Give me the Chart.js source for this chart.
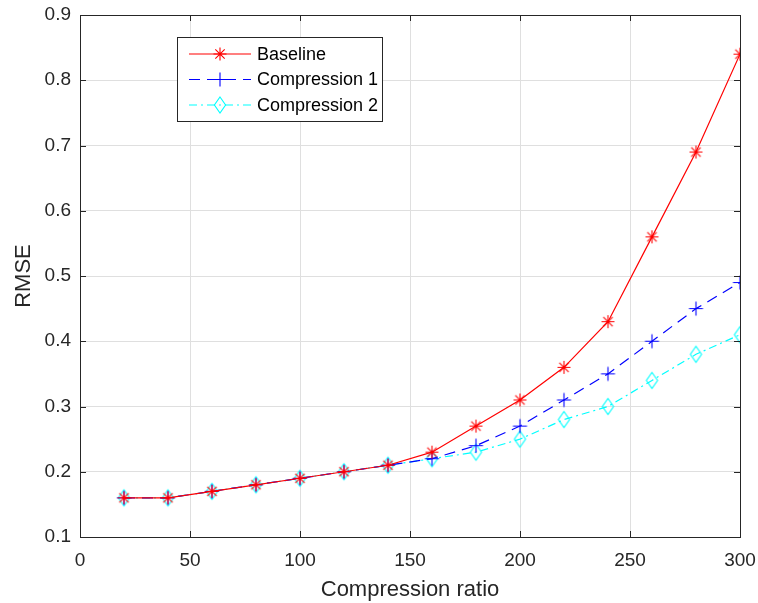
<!DOCTYPE html>
<html>
<head>
<meta charset="utf-8">
<title>RMSE vs compression ratio</title>
<script src="https://cdn.jsdelivr.net/npm/chart.js@4.4.0/dist/chart.umd.min.js"></script>
<style>
  html, body { margin: 0; padding: 0; background: #fff; }
  #wrap { width: 758px; height: 603px; position: relative; }
</style>
</head>
<body>
<div id="wrap"><canvas id="graph"></canvas></div>
<script>
const ratios = [20, 40, 60, 80, 100, 120, 140, 160, 180, 200, 220, 240, 260, 280, 300];
const baseline = [0.16, 0.16, 0.17, 0.18, 0.19, 0.20, 0.21, 0.23, 0.27, 0.31, 0.36, 0.43, 0.56, 0.69, 0.84];
const compression1 = [0.16, 0.16, 0.17, 0.18, 0.19, 0.20, 0.21, 0.22, 0.24, 0.27, 0.31, 0.35, 0.40, 0.45, 0.49];
const compression2 = [0.16, 0.16, 0.17, 0.18, 0.19, 0.20, 0.21, 0.22, 0.23, 0.25, 0.28, 0.30, 0.34, 0.38, 0.41];
const xTicks = [0, 50, 100, 150, 200, 250, 300];
const yTicks = [0.1, 0.2, 0.3, 0.4, 0.5, 0.6, 0.7, 0.8, 0.9];

const FONT = "'Liberation Sans', Arial, Helvetica, sans-serif";
const AXIS = '#262626';

function toPoints(ys) {
  return ratios.map((x, i) => ({ x: x, y: ys[i] }));
}

// matlab-ish markers, also reused by the legend
function drawMarker(ctx, style, x, y, r) {
  ctx.beginPath();
  if (style === 'star') {
    ctx.moveTo(x - r, y); ctx.lineTo(x + r, y);
    ctx.moveTo(x, y - r); ctx.lineTo(x, y + r);
    const d = r * 0.72;
    ctx.moveTo(x - d, y - d); ctx.lineTo(x + d, y + d);
    ctx.moveTo(x - d, y + d); ctx.lineTo(x + d, y - d);
  } else if (style === 'cross') {
    ctx.moveTo(x - r, y); ctx.lineTo(x + r, y);
    ctx.moveTo(x, y - r); ctx.lineTo(x, y + r);
  } else {
    ctx.moveTo(x, y - r * 1.15);
    ctx.lineTo(x + r * 0.8, y);
    ctx.lineTo(x, y + r * 1.15);
    ctx.lineTo(x - r * 0.8, y);
    ctx.closePath();
  }
  ctx.stroke();
}

function markerCanvas(style, color, r) {
  const c = document.createElement('canvas');
  const s = Math.ceil(r * 2.6) + 2;
  c.width = s; c.height = s;
  const g = c.getContext('2d');
  g.strokeStyle = color;
  g.lineWidth = 1.1;
  drawMarker(g, style, s / 2, s / 2, r);
  return c;
}

const series = [
  { label: 'Baseline', data: baseline, color: '#ff0000', dash: [], marker: 'star', r: 6.5 },
  { label: 'Compression 1', data: compression1, color: '#0000ff', dash: [11, 7], marker: 'cross', r: 7 },
  { label: 'Compression 2', data: compression2, color: '#00ffff', dash: [8, 4, 2, 4], marker: 'diamond', r: 7 }
];

const datasets = series.map(s => ({
  label: s.label,
  data: toPoints(s.data),
  borderColor: s.color,
  backgroundColor: s.color,
  borderWidth: 1.2,
  borderDash: s.dash,
  pointStyle: markerCanvas(s.marker, s.color, s.r),
  pointRadius: s.r,
  tension: 0,
  fill: false
}));

// frame + inward ticks + legend box
const framePlugin = {
  id: 'frame',
  afterDatasetsDraw(chart) {
    const { ctx, chartArea: a, scales } = chart;
    ctx.save();
    ctx.strokeStyle = AXIS;
    ctx.lineWidth = 1;
    ctx.strokeRect(a.left + 0.5, a.top + 0.5, a.right - a.left, a.bottom - a.top);
    ctx.beginPath();
    xTicks.forEach(v => {
      const px = Math.round(scales.x.getPixelForValue(v)) + 0.5;
      ctx.moveTo(px, a.bottom); ctx.lineTo(px, a.bottom - 6);
      ctx.moveTo(px, a.top); ctx.lineTo(px, a.top + 6);
    });
    yTicks.forEach(v => {
      const py = Math.round(scales.y.getPixelForValue(v)) + 0.5;
      ctx.moveTo(a.left, py); ctx.lineTo(a.left + 6, py);
      ctx.moveTo(a.right, py); ctx.lineTo(a.right - 6, py);
    });
    ctx.stroke();

    // legend
    const bx = a.left + 97, by = a.top + 22, bw = 205, bh = 84;
    ctx.fillStyle = '#fff';
    ctx.fillRect(bx, by, bw, bh);
    ctx.strokeStyle = AXIS;
    ctx.strokeRect(bx + 0.5, by + 0.5, bw, bh);
    ctx.font = '18px ' + FONT;
    ctx.textBaseline = 'middle';
    series.forEach((s, i) => {
      const y = by + 17 + i * 25.5;
      ctx.strokeStyle = s.color;
      ctx.lineWidth = 1.2;
      ctx.setLineDash(s.dash);
      ctx.beginPath();
      ctx.moveTo(bx + 12, y); ctx.lineTo(bx + 74, y);
      ctx.stroke();
      ctx.setLineDash([]);
      ctx.lineWidth = 1.1;
      drawMarker(ctx, s.marker, bx + 43, y, s.r);
      ctx.fillStyle = '#000';
      ctx.fillText(s.label, bx + 80, y + 1);
    });
    ctx.restore();
  }
};

// keep tick labels from pushing the plot area inwards
function noOverflow(s) {
  s.paddingLeft = 0; s.paddingRight = 0;
  s.paddingTop = 0; s.paddingBottom = 0;
}

const config = {
  type: 'line',
  data: { datasets },
  options: {
    responsive: true,
    maintainAspectRatio: false,
    animation: false,
    layout: { padding: { top: 15, right: 18, left: 0, bottom: 0 } },
    plugins: { legend: { display: false }, tooltip: { enabled: false } },
    scales: {
      x: {
        type: 'linear',
        min: 0, max: 300,
        afterBuildTicks: s => { s.ticks = xTicks.map(v => ({ value: v })); },
        afterFit: s => { s.height = 66; noOverflow(s); },
        grid: { color: '#dfdfdf', drawTicks: false },
        border: { display: false },
        ticks: { color: AXIS, font: { family: FONT, size: 19 }, padding: 12, maxRotation: 0 },
        title: { display: true, text: 'Compression ratio', color: AXIS, font: { family: FONT, size: 22 }, padding: { bottom: 0 } }
      },
      y: {
        type: 'linear',
        min: 0.1, max: 0.9,
        afterBuildTicks: s => { s.ticks = yTicks.map(v => ({ value: v })); },
        afterFit: s => { s.width = 80; noOverflow(s); },
        grid: { color: '#dfdfdf', drawTicks: false },
        border: { display: false },
        ticks: { color: AXIS, font: { family: FONT, size: 19 }, padding: 9, callback: v => v.toFixed(1) },
        title: { display: true, text: 'RMSE', color: AXIS, font: { family: FONT, size: 22 }, padding: { top: 11 } }
      }
    }
  },
  plugins: [framePlugin]
};

const rmseChart = new Chart(document.getElementById('graph'), config);
</script>
</body>
</html>
